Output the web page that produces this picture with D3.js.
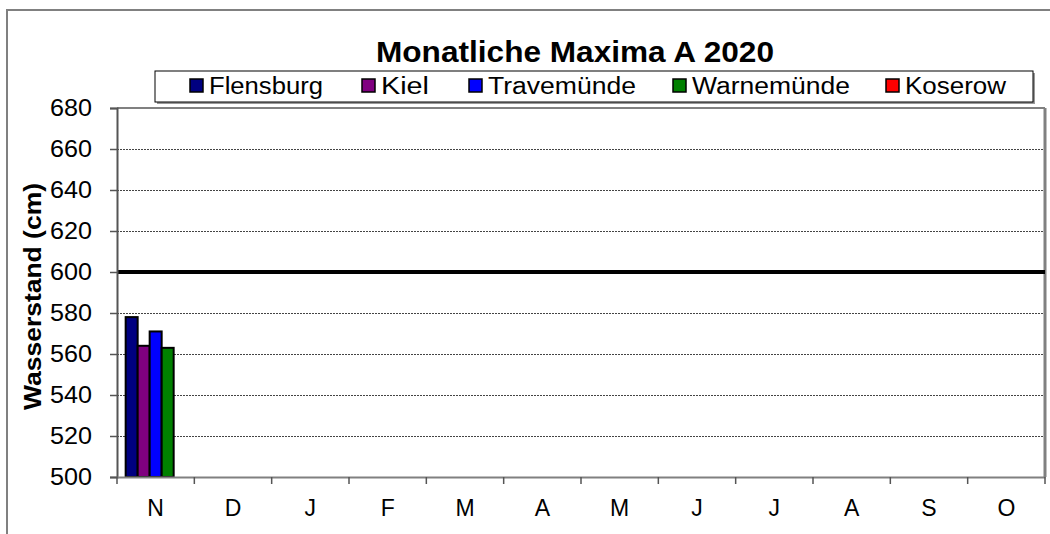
<!DOCTYPE html>
<html>
<head>
<meta charset="utf-8">
<script src="https://cdn.jsdelivr.net/npm/d3@7"></script>
<style>
  body { margin: 0; background: #fff; }
  svg text { font-family: "Liberation Sans", Arial, sans-serif; fill: #000; }
</style>
</head>
<body>
<div class="chart"></div>
<script>
// data
var months = ["N", "D", "J", "F", "M", "A", "M", "J", "J", "A", "S", "O"];
var stations = ["Flensburg", "Kiel", "Travemünde", "Warnemünde", "Koserow"];
var colors = ["#000080", "#800080", "#0000ff", "#008000", "#ff0000"];
var flensburg = [578, null, null, null, null, null, null, null, null, null, null, null];
var kiel = [564, null, null, null, null, null, null, null, null, null, null, null];
var travemuende = [571, null, null, null, null, null, null, null, null, null, null, null];
var warnemuende = [563, null, null, null, null, null, null, null, null, null, null, null];
var koserow = [null, null, null, null, null, null, null, null, null, null, null, null];
var yTicks = [500, 520, 540, 560, 580, 600, 620, 640, 660, 680];
var threshold = 600;

var seriesValues = [flensburg, kiel, travemuende, warnemuende, koserow];

var svgWidth = 1050;
var svgHeight = 534;
var margin = {top: 108, right: 5, bottom: 57, left: 117};
var width = svgWidth - margin.left - margin.right;
var height = svgHeight - margin.top - margin.bottom;

var svg = d3.select(".chart")
    .append("svg")
    .attr("width", svgWidth)
    .attr("height", svgHeight);

// outer chart frame
svg.append("path")
    .attr("d", "M7,534 V10 H1050")
    .attr("fill", "none")
    .attr("stroke", "#808080")
    .attr("stroke-width", 2);

// title
svg.append("text")
    .attr("x", 575)
    .attr("y", 62)
    .attr("text-anchor", "middle")
    .attr("font-size", "30px")
    .attr("font-weight", "bold")
    .attr("textLength", 398)
    .attr("lengthAdjust", "spacingAndGlyphs")
    .text("Monatliche Maxima A 2020");

var chartGroup = svg.append("g")
    .attr("transform", `translate(${margin.left}, ${margin.top})`);

var x0 = d3.scaleBand()
    .domain(d3.range(months.length))
    .range([0, width])
    .paddingInner(0)
    .paddingOuter(0);

var x1 = d3.scaleBand()
    .domain(d3.range(stations.length))
    .range([x0.bandwidth() * 0.112, x0.bandwidth() * 0.888]);

var y = d3.scaleLinear()
    .domain([500, 680])
    .range([height, 0]);

// gridlines
chartGroup.selectAll(".grid")
    .data(yTicks.filter(d => d > 500 && d < 680 && d !== threshold))
    .join("line")
    .attr("class", "grid")
    .attr("x1", 0)
    .attr("x2", width)
    .attr("y1", d => y(d) + 0.5)
    .attr("y2", d => y(d) + 0.5)
    .attr("stroke", "#444")
    .attr("stroke-width", 1)
    .attr("stroke-dasharray", "2,1");

// plot frame top / right
chartGroup.append("line")
    .attr("x1", 0).attr("x2", width)
    .attr("y1", 0).attr("y2", 0)
    .attr("stroke", "#808080")
    .attr("stroke-width", 2);
chartGroup.append("line")
    .attr("x1", width).attr("x2", width)
    .attr("y1", 0).attr("y2", height)
    .attr("stroke", "#808080")
    .attr("stroke-width", 3);

// threshold line
chartGroup.append("line")
    .attr("x1", 0)
    .attr("x2", width)
    .attr("y1", y(threshold))
    .attr("y2", y(threshold))
    .attr("stroke", "#000")
    .attr("stroke-width", 4);

// bars
var groups = chartGroup.selectAll(".month")
    .data(d3.range(months.length))
    .join("g")
    .attr("class", "month")
    .attr("transform", i => `translate(${x0(i)},0)`);

groups.selectAll("rect")
    .data(i => seriesValues.map((s, k) => ({k: k, v: s[i]})).filter(d => d.v != null))
    .join("rect")
    .attr("x", d => x1(d.k))
    .attr("width", x1.bandwidth())
    .attr("y", d => y(d.v))
    .attr("height", d => height - y(d.v))
    .attr("fill", d => colors[d.k])
    .attr("stroke", "#000")
    .attr("stroke-width", 2);

// axes
var leftAxis = d3.axisLeft(y)
    .tickValues(yTicks)
    .tickSize(7)
    .tickPadding(18);
var yAxis = chartGroup.append("g")
    .call(leftAxis);
yAxis.select(".domain").attr("stroke", "#555").attr("stroke-width", 2);
yAxis.selectAll(".tick line").attr("stroke", "#555").attr("stroke-width", 1.5);
yAxis.selectAll("text")
    .attr("font-size", "23px")
    .attr("font-family", "Liberation Sans, Arial, sans-serif")
    .attr("textLength", 42)
    .attr("lengthAdjust", "spacingAndGlyphs");

var bottomAxis = d3.axisBottom(x0)
    .tickFormat(i => months[i])
    .tickSize(0)
    .tickPadding(23);
var xAxis = chartGroup.append("g")
    .attr("transform", `translate(0,${height})`)
    .call(bottomAxis);
xAxis.select(".domain").attr("stroke", "#808080").attr("stroke-width", 2);
xAxis.selectAll("text")
    .attr("font-size", "23px")
    .attr("font-family", "Liberation Sans, Arial, sans-serif");

// category boundary ticks
chartGroup.selectAll(".xtick")
    .data(d3.range(months.length + 1))
    .join("line")
    .attr("class", "xtick")
    .attr("x1", i => i < months.length ? x0(i) : width)
    .attr("x2", i => i < months.length ? x0(i) : width)
    .attr("y1", height)
    .attr("y2", height + 7)
    .attr("stroke", "#555")
    .attr("stroke-width", 1.5);

// y label
svg.append("text")
    .attr("transform", `translate(41, ${margin.top + height / 2 + 4}) rotate(-90)`)
    .attr("text-anchor", "middle")
    .attr("font-size", "24px")
    .attr("font-weight", "bold")
    .attr("textLength", 227)
    .attr("lengthAdjust", "spacingAndGlyphs")
    .text("Wasserstand (cm)");

// legend
var legendBox = {x: 155, y: 71, w: 878, h: 31};
svg.append("rect")
    .attr("x", legendBox.x + 2)
    .attr("y", legendBox.y + 2)
    .attr("width", legendBox.w)
    .attr("height", legendBox.h)
    .attr("fill", "#999");
svg.append("rect")
    .attr("x", legendBox.x)
    .attr("y", legendBox.y)
    .attr("width", legendBox.w)
    .attr("height", legendBox.h)
    .attr("fill", "#fff")
    .attr("stroke", "#000")
    .attr("stroke-width", 1);

var legendMarkerX = [190, 362, 469, 673, 886];
var legendTextLen = [114, 48, 148, 158, 101];

var legend = svg.selectAll(".legend")
    .data(stations)
    .join("g")
    .attr("class", "legend")
    .attr("transform", (d, i) => `translate(${legendMarkerX[i]},79)`);

legend.append("rect")
    .attr("width", 13)
    .attr("height", 13)
    .attr("fill", (d, i) => colors[i])
    .attr("stroke", "#000")
    .attr("stroke-width", 1.5);

legend.append("text")
    .attr("x", 19)
    .attr("y", 15)
    .attr("font-size", "23px")
    .attr("textLength", (d, i) => legendTextLen[i])
    .attr("lengthAdjust", "spacingAndGlyphs")
    .text(d => d);
</script>
</body>
</html>
